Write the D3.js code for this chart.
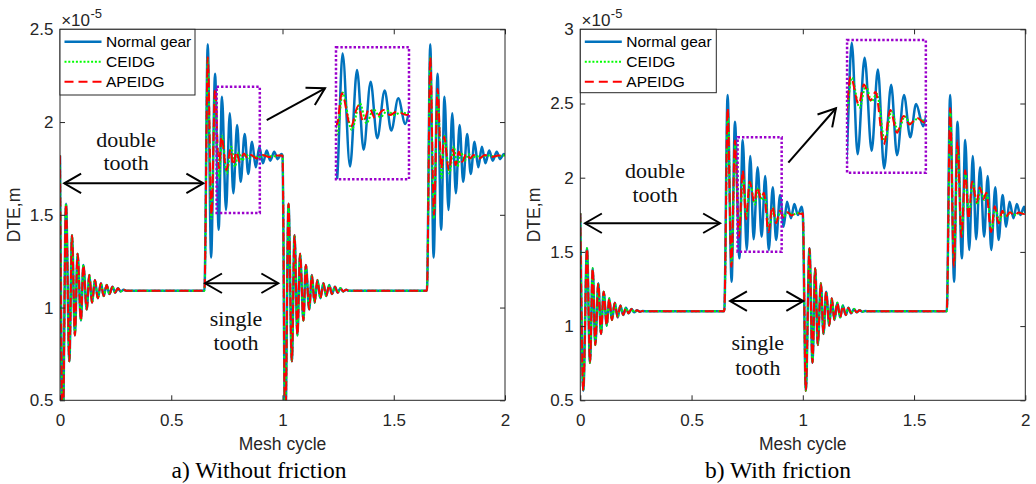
<!DOCTYPE html>
<html><head><meta charset="utf-8">
<script src="https://cdn.jsdelivr.net/npm/d3@7"></script>
<style>body{margin:0;background:#fff} svg{display:block}</style>
</head><body>
<svg id="chart" width="1036" height="484"></svg>
<script>
// ---------- data (DTE in units of 1e-5 m, x in mesh cycles) ----------
const xTicks = [0, 0.5, 1, 1.5, 2];
const yTicksA = [0.5, 1, 1.5, 2, 2.5];
const yTicksB = [0.5, 1, 1.5, 2, 2.5, 3];
const seriesNames = ["Normal gear", "CEIDG", "APEIDG"];

// Panel a (without friction): one mesh cycle, double-tooth part (shared by all three)
const aDoubleTooth = [[0,1.82],[0.012,0.3],[0.027,1.56],[0.042,0.71],[0.054,1.39],[0.067,0.85],[0.079,1.29],[0.094,0.93],[0.105,1.23],[0.12,0.99],[0.132,1.175],[0.144,1.026],[0.157,1.148],[0.17,1.05],[0.184,1.131],[0.196,1.062],[0.21,1.122],[0.222,1.073],[0.236,1.112],[0.248,1.08],[0.26,1.104],[0.273,1.087],[0.286,1.096],[0.3,1.09],[0.649,1.09]];
const aNormalSingle = [[0.664,2.42],[0.679,1.27],[0.697,2.26],[0.713,1.42],[0.728,2.137],[0.746,1.526],[0.763,2.047],[0.779,1.616],[0.796,1.984],[0.812,1.678],[0.83,1.936],[0.846,1.72],[0.863,1.894],[0.88,1.756],[0.896,1.867],[0.912,1.778],[0.929,1.846],[0.945,1.792],[0.963,1.84],[0.978,1.8],[0.995,1.828]];
const aCeidgSingle = [[0.664,2.35],[0.68,1.48],[0.697,2.15],[0.715,1.70],[0.728,1.925],[0.75,1.723],[0.77,1.867],[0.786,1.759],[0.803,1.835],[0.819,1.792],[0.837,1.827],[0.853,1.804],[0.87,1.818],[0.89,1.81],[0.92,1.82],[0.96,1.815],[0.995,1.82]];
const aApeidgSingle = [[0.664,2.35],[0.681,1.5],[0.697,2.18],[0.714,1.75],[0.726,1.921],[0.748,1.741],[0.766,1.853],[0.778,1.768],[0.793,1.84],[0.807,1.786],[0.827,1.831],[0.843,1.804],[0.859,1.822],[0.884,1.804],[0.91,1.822],[0.94,1.812],[0.97,1.82],[0.995,1.82]];

// Panel b (with friction)
const bDoubleTooth = [[0,1.76],[0.0135,0.565],[0.03,1.524],[0.0436,0.753],[0.0557,1.39],[0.0674,0.873],[0.081,1.288],[0.093,0.947],[0.105,1.232],[0.119,1.003],[0.13,1.187],[0.142,1.041],[0.155,1.158],[0.168,1.059],[0.18,1.138],[0.193,1.075],[0.205,1.124],[0.217,1.086],[0.23,1.115],[0.242,1.093],[0.255,1.106],[0.268,1.097],[0.28,1.101],[0.3,1.1],[0.647,1.1]];
const bNormalSingle = [[0.662,2.557],[0.68,1.299],[0.695,2.377],[0.715,1.457],[0.73,2.254],[0.748,1.513],[0.764,2.146],[0.779,1.585],[0.797,2.07],[0.815,1.602],[0.831,2.011],[0.847,1.513],[0.865,1.935],[0.88,1.58],[0.898,1.883],[0.914,1.67],[0.929,1.838],[0.947,1.726],[0.962,1.823],[0.978,1.749],[0.995,1.805]];
const bCeidgSingle = [[0.663,2.45],[0.68,1.42],[0.696,2.22],[0.714,1.62],[0.732,2.02],[0.747,1.74],[0.764,1.97],[0.784,1.82],[0.8,1.93],[0.815,1.85],[0.828,1.89],[0.849,1.65],[0.866,1.80],[0.883,1.70],[0.9,1.775],[0.915,1.74],[0.934,1.765],[0.955,1.75],[0.975,1.762],[0.995,1.758]];
const bApeidgSingle = [[0.662,2.47],[0.679,1.40],[0.695,2.25],[0.713,1.60],[0.73,2.05],[0.745,1.72],[0.761,1.975],[0.782,1.835],[0.795,1.936],[0.812,1.857],[0.825,1.898],[0.846,1.634],[0.863,1.807],[0.88,1.693],[0.897,1.777],[0.912,1.735],[0.931,1.768],[0.95,1.745],[0.97,1.765],[0.995,1.755]];

// zoomed inset views (data window shown in the inset axes)
const insetAxDomain = [0.712, 0.889], insetAyDomain = [1.456, 2.17];
const insetBxDomain = [0.752, 0.954], insetByDomain = [1.492, 2.16];

// ---------- helpers ----------
function periodic(dbl, single) {
  const cyc = dbl.concat(single), pts = [];
  [0, 1].forEach(k => cyc.forEach(d => pts.push([d[0] + k, d[1]])));
  pts.push([2, dbl[0][1]]);
  return pts;
}

const FONT = '"Liberation Sans", Arial, Helvetica, sans-serif';
const SERIF = '"Liberation Serif", "Times New Roman", serif';
const AX = "#262626";
const COLORS = ["#0072BD", "#00FF00", "#FF0000"];
const STYLES = [{w: 2.5, dash: null}, {w: 2, dash: "2,1.8"}, {w: 2, dash: "9,5"}];
const PURPLE = "#9B00CC";

const svg = d3.select("#chart");

const panels = [
  {
    id: "a", left: 60, top: 29.3, w: 445, h: 371, yDomain: [0.5, 2.5], yTicks: yTicksA,
    series: [periodic(aDoubleTooth, aNormalSingle), periodic(aDoubleTooth, aCeidgSingle), periodic(aDoubleTooth, aApeidgSingle)],
    caption: "a) Without friction", captionX: 259, ylabX: 20, legendW: 135, legendH: 65.7,
    dbl: {x1: 0.019, x2: 0.644, y: 1.670, tx: 0.297, ty1: 1.867, ty2: 1.742},
    sgl: {x1: 0.652, x2: 0.981, y: 1.131, tx: 0.791, ty1: 0.90, ty2: 0.771},
    box: {x1: 0.704, x2: 0.898, y1: 1.51, y2: 2.19},
    diag: {x1: 0.929, y1: 2.011, x2: 1.191, y2: 2.182},
    inset: {x1: 1.2404, x2: 1.5685, y1: 1.691, y2: 2.403, xd: insetAxDomain, yd: insetAyDomain}
  },
  {
    id: "b", left: 580.3, top: 29.3, w: 445, h: 371, yDomain: [0.5, 3], yTicks: yTicksB,
    series: [periodic(bDoubleTooth, bNormalSingle), periodic(bDoubleTooth, bCeidgSingle), periodic(bDoubleTooth, bApeidgSingle)],
    caption: "b) With friction", captionX: 778, ylabX: 540, legendW: 136, legendH: 63.4,
    dbl: {x1: 0.021, x2: 0.628, y: 1.693, tx: 0.336, ty1: 1.996, ty2: 1.838},
    sgl: {x1: 0.673, x2: 1.002, y: 1.169, tx: 0.798, ty1: 0.839, ty2: 0.67},
    box: {x1: 0.707, x2: 0.905, y1: 1.501, y2: 2.272},
    diag: {x1: 0.935, y1: 2.101, x2: 1.149, y2: 2.468},
    inset: {x1: 1.199, x2: 1.553, y1: 2.034, y2: 2.928, xd: insetBxDomain, yd: insetByDomain}
  }
];

function drawLines(g, data, x, y, clipId) {
  const line = d3.line().x(d => x(d[0])).y(d => y(d[1])).curve(d3.curveMonotoneX);
  const lg = g.append("g").attr("clip-path", `url(#${clipId})`);
  data.forEach((s, i) => {
    lg.append("path").attr("d", line(s)).attr("fill", "none")
      .attr("stroke", COLORS[i]).attr("stroke-width", STYLES[i].w)
      .attr("stroke-dasharray", STYLES[i].dash)
      .attr("stroke-linejoin", "round");
  });
}

function arrowHead(g, tx, ty, ang) {
  const L = 19.5, a = Math.PI / 6;
  const p1 = [tx - L * Math.cos(ang - a), ty - L * Math.sin(ang - a)];
  const p2 = [tx - L * Math.cos(ang + a), ty - L * Math.sin(ang + a)];
  g.append("path").attr("d", `M${p1[0]},${p1[1]}L${tx},${ty}L${p2[0]},${p2[1]}`)
    .attr("fill", "none").attr("stroke", "#000").attr("stroke-width", 2);
}

const defs = svg.append("defs");

panels.forEach(p => {
  const g = svg.append("g");
  const x = d3.scaleLinear().domain([0, 2]).range([p.left, p.left + p.w]);
  const y = d3.scaleLinear().domain(p.yDomain).range([p.top + p.h, p.top]);

  defs.append("clipPath").attr("id", "clip" + p.id).append("rect")
    .attr("x", p.left).attr("y", p.top).attr("width", p.w).attr("height", p.h);

  // data lines
  drawLines(g, p.series, x, y, "clip" + p.id);

  // axes
  const bottom = p.top + p.h, right = p.left + p.w;
  const ax = g.append("g").attr("transform", `translate(0,${bottom})`)
    .call(d3.axisBottom(x).tickValues(xTicks).tickSize(-5).tickPadding(14).tickFormat(d3.format("")));
  const ay = g.append("g").attr("transform", `translate(${p.left},0)`)
    .call(d3.axisLeft(y).tickValues(p.yTicks).tickSize(-5).tickPadding(6.5).tickFormat(d3.format("")));
  const at = g.append("g").attr("transform", `translate(0,${p.top})`)
    .call(d3.axisTop(x).tickValues(xTicks).tickSize(-5).tickFormat(""));
  const ar = g.append("g").attr("transform", `translate(${right},0)`)
    .call(d3.axisRight(y).tickValues(p.yTicks).tickSize(-5).tickFormat(""));
  [ax, ay, at, ar].forEach(a => {
    a.select(".domain").remove();
    a.selectAll("line").attr("stroke", AX);
    a.selectAll("text").attr("fill", AX).style("font-family", FONT).style("font-size", "17px");
  });
  g.append("rect").attr("x", p.left).attr("y", p.top).attr("width", p.w).attr("height", p.h)
    .attr("fill", "none").attr("stroke", AX).attr("stroke-width", 1);

  // exponent
  g.append("text").attr("x", p.left + 1.2).attr("y", 25.5).attr("fill", AX)
    .style("font-family", FONT).style("font-size", "17px").text("×10");
  g.append("text").attr("x", p.left + 30.5).attr("y", 17.5).attr("fill", AX)
    .style("font-family", FONT).style("font-size", "13px").text("-5");

  // axis labels
  g.append("text").attr("x", p.left + p.w / 2).attr("y", 450).attr("text-anchor", "middle")
    .attr("fill", AX).style("font-family", FONT).style("font-size", "17.5px").text("Mesh cycle");
  g.append("text").attr("transform", `translate(${p.ylabX},215) rotate(-90)`).attr("text-anchor", "middle")
    .attr("fill", AX).style("font-family", FONT).style("font-size", "17.5px").text("DTE,m");
  g.append("text").attr("x", p.captionX).attr("y", 478).attr("text-anchor", "middle")
    .attr("fill", "#000").style("font-family", SERIF).style("font-size", "23.5px").text(p.caption);

  // annotations: double tooth / single tooth
  [p.dbl, p.sgl].forEach((a, i) => {
    const x1 = x(a.x1), x2 = x(a.x2), yy = y(a.y);
    g.append("line").attr("x1", x1).attr("x2", x2).attr("y1", yy).attr("y2", yy)
      .attr("stroke", "#000").attr("stroke-width", 2);
    arrowHead(g, x1, yy, Math.PI);
    arrowHead(g, x2, yy, 0);
    const words = i === 0 ? ["double", "tooth"] : ["single", "tooth"];
    g.append("text").attr("x", x(a.tx)).attr("y", y(a.ty1)).attr("text-anchor", "middle")
      .style("font-family", SERIF).style("font-size", "22px").attr("fill", "#111").text(words[0]);
    g.append("text").attr("x", x(a.tx)).attr("y", y(a.ty2)).attr("text-anchor", "middle")
      .style("font-family", SERIF).style("font-size", "22px").attr("fill", "#111").text(words[1]);
  });

  // purple box on main plot
  g.append("rect").attr("x", x(p.box.x1)).attr("y", y(p.box.y2))
    .attr("width", x(p.box.x2) - x(p.box.x1)).attr("height", y(p.box.y1) - y(p.box.y2))
    .attr("fill", "none").attr("stroke", PURPLE).attr("stroke-width", 2.5).attr("stroke-dasharray", "2.4,2");

  // diagonal arrow
  const dx1 = x(p.diag.x1), dy1 = y(p.diag.y1), dx2 = x(p.diag.x2), dy2 = y(p.diag.y2);
  g.append("line").attr("x1", dx1).attr("y1", dy1).attr("x2", dx2).attr("y2", dy2)
    .attr("stroke", "#000").attr("stroke-width", 2);
  arrowHead(g, dx2, dy2, Math.atan2(dy2 - dy1, dx2 - dx1));

  // inset
  const ix1 = x(p.inset.x1), ix2 = x(p.inset.x2), iy1 = y(p.inset.y2), iy2 = y(p.inset.y1);
  const xi = d3.scaleLinear().domain(p.inset.xd).range([ix1, ix2]);
  const yi = d3.scaleLinear().domain(p.inset.yd).range([iy2, iy1]);
  defs.append("clipPath").attr("id", "clipi" + p.id).append("rect")
    .attr("x", ix1).attr("y", iy1).attr("width", ix2 - ix1).attr("height", iy2 - iy1);
  const ig = g.append("g");
  ig.append("rect").attr("x", ix1).attr("y", iy1).attr("width", ix2 - ix1).attr("height", iy2 - iy1).attr("fill", "#fff");
  drawLines(ig, p.series, xi, yi, "clipi" + p.id);
  ig.append("rect").attr("x", ix1).attr("y", iy1).attr("width", ix2 - ix1).attr("height", iy2 - iy1)
    .attr("fill", "none").attr("stroke", PURPLE).attr("stroke-width", 2.5).attr("stroke-dasharray", "2.4,2");

  // legend
  const lg = g.append("g");
  lg.append("rect").attr("x", p.left).attr("y", p.top).attr("width", p.legendW).attr("height", p.legendH)
    .attr("fill", "#fff").attr("stroke", AX).attr("stroke-width", 1);
  seriesNames.forEach((n, i) => {
    const yy = p.top + 12.4 + i * 20;
    lg.append("line").attr("x1", p.left + 4.5).attr("x2", p.left + 41.5).attr("y1", yy).attr("y2", yy)
      .attr("stroke", COLORS[i]).attr("stroke-width", STYLES[i].w).attr("stroke-dasharray", STYLES[i].dash);
    lg.append("text").attr("x", p.left + 46).attr("y", yy + 5.5).attr("fill", "#000")
      .style("font-family", FONT).style("font-size", "15.5px").text(n);
  });
});
</script>
</body></html>
